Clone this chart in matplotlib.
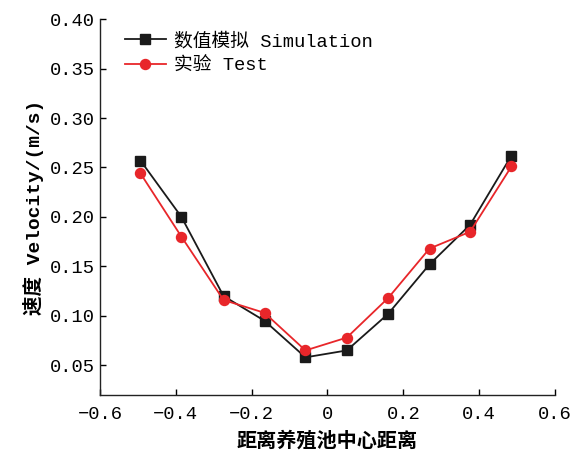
import matplotlib
matplotlib.use("Agg")
import matplotlib.pyplot as plt

fam = ['Liberation Mono', 'Noto Sans CJK SC']
plt.rcParams['font.family'] = fam

x_sim = [-0.493, -0.385, -0.274, -0.166, -0.058, 0.051, 0.160, 0.269, 0.376, 0.485]
y_sim = [0.257, 0.200, 0.120, 0.095, 0.058, 0.065, 0.102, 0.152, 0.192, 0.262]
x_test = [-0.493, -0.385, -0.274, -0.166, -0.058, 0.051, 0.160, 0.269, 0.376, 0.485]
y_test = [0.244, 0.180, 0.116, 0.103, 0.065, 0.078, 0.118, 0.168, 0.185, 0.251]

xticks = [-0.6, -0.4, -0.2, 0, 0.2, 0.4, 0.6]
xticklabels = ['\u22120.6', '\u22120.4', '\u22120.2', '0', '0.2', '0.4', '0.6']
yticks = [0.05, 0.10, 0.15, 0.20, 0.25, 0.30, 0.35, 0.40]
yticklabels = ['0.05', '0.10', '0.15', '0.20', '0.25', '0.30', '0.35', '0.40']

fig = plt.figure(figsize=(5.74, 4.55), dpi=100)
ax = fig.add_axes([0.174, 0.132, 0.793, 0.826])

ax.plot(x_sim, y_sim, color='#1a1a1a', lw=1.3, marker='s', ms=6.5,
        label='数值模拟 Simulation', zorder=3)
ax.plot(x_test, y_test, color='#e8262a', lw=1.3, marker='o', ms=7.2,
        label='实验 Test', zorder=4)

ax.set_xlim(-0.6, 0.6)
ax.set_ylim(0.02, 0.40)
ax.set_xticks(xticks)
ax.set_xticklabels(xticklabels)
ax.set_yticks(yticks)
ax.set_yticklabels(yticklabels)
ax.tick_params(direction='in', length=4, width=1, labelsize=13.5)
ax.tick_params(axis='x', pad=8)
ax.spines['top'].set_visible(False)
ax.spines['right'].set_visible(False)
for s in ['left', 'bottom']:
    ax.spines[s].set_linewidth(1.0)
    ax.spines[s].set_color('#222222')

ax.set_xlabel('距离养殖池中心距离', fontsize=14.5, fontweight='bold', labelpad=6)
ax.set_ylabel('速度 Velocity/(m/s)', fontsize=14, fontweight='bold', labelpad=4)

leg = ax.legend(loc='upper left', bbox_to_anchor=(0.03, 0.995), frameon=False,
                fontsize=13.5, handlelength=2.2, labelspacing=0.42,
                handletextpad=0.4, borderaxespad=0.2)

fig.savefig('out.png', dpi=100)
